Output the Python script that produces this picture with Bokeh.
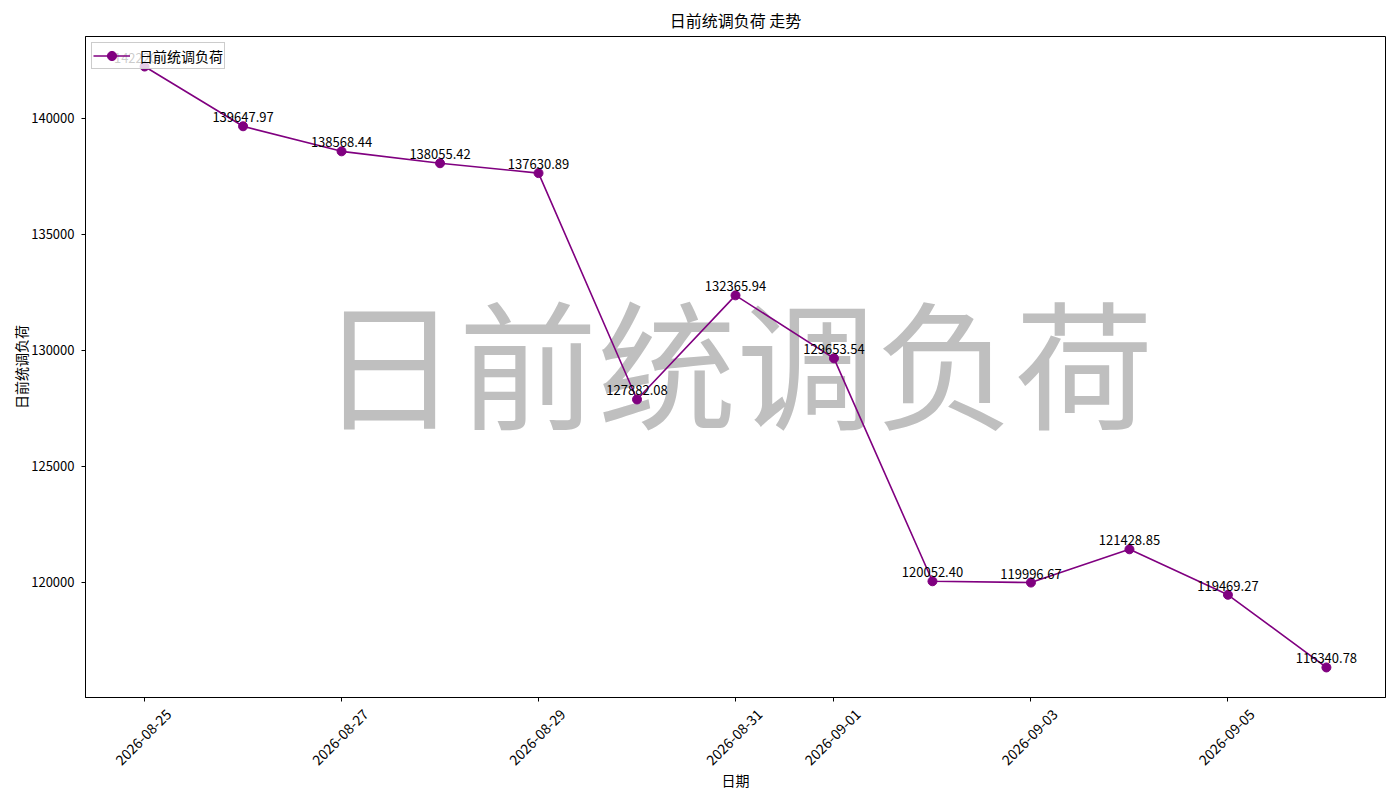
import math
from datetime import datetime
from bokeh.plotting import figure
from bokeh.models import (ColumnDataSource, FixedTicker, DatetimeTickFormatter, DatetimeAxis,
                          BasicTickFormatter, Range1d, Label, Legend, LegendItem)
from bokeh.core.properties import value
from bokeh.embed import file_html
from bokeh.resources import INLINE

FONT = "Noto Sans CJK SC"

dates = ["2026-08-25", "2026-08-26", "2026-08-27", "2026-08-28", "2026-08-29",
         "2026-08-30", "2026-08-31", "2026-09-01", "2026-09-02", "2026-09-03",
         "2026-09-04", "2026-09-05", "2026-09-06"]
loads = [142220.15, 139647.97, 138568.44, 138055.42, 137630.89,
         127882.08, 132365.94, 129653.54, 120052.40, 119996.67,
         121428.85, 119469.27, 116340.78]
x_tick_dates = ["2026-08-25", "2026-08-27", "2026-08-29", "2026-08-31",
                "2026-09-01", "2026-09-03", "2026-09-05"]
y_ticks = [120000, 125000, 130000, 135000, 140000]

title_text = "日前统调负荷 走势"
series_name = "日前统调负荷"
x_label = "日期"
y_label = "日前统调负荷"
watermark = "日前统调负荷"

xs = [datetime.strptime(d, "%Y-%m-%d") for d in dates]
labels = ["%.2f" % v for v in loads]
src = ColumnDataSource(dict(x=xs, y=loads, label=labels))

x0 = xs[0].timestamp() * 1000
x1 = xs[-1].timestamp() * 1000
xpad = (x1 - x0) * 0.05
ymin, ymax = min(loads), max(loads)
ypad = (ymax - ymin) * 0.05
y_lo = ymin - ypad

FRAME_W = 1300
x_lo, x_hi = x0 - xpad, x1 + xpad
# tick labels: a second, label-only axis on a range shifted so that the rotated
# labels end up centred on their ticks (as in the reference)
shift_px = 24
shift = shift_px * (x_hi - x_lo) / FRAME_W

p = figure(x_axis_type="datetime", output_backend="svg", toolbar_location=None,
           frame_width=FRAME_W, frame_height=661,
           min_border_left=85, min_border_right=7, min_border_top=36, min_border_bottom=93,
           x_range=Range1d(x_lo, x_hi),
           y_range=Range1d(y_lo, ymax + ypad))
p.extra_x_ranges = {"lab": Range1d(x_lo - shift, x_hi - shift)}

p.title.text = title_text
p.title.align = "center"
p.title.text_font = FONT
p.title.text_font_style = "normal"
p.title.text_font_size = "16px"
p.title.text_color = "black"

p.xgrid.visible = False
p.ygrid.visible = False
p.outline_line_color = "black"
p.outline_line_width = 1
p.background_fill_color = "white"
p.border_fill_color = "white"

# watermark behind data
wm = Label(x=651, y=339, x_units="screen", y_units="screen", text=watermark,
           text_font=FONT, text_font_size="139px", text_color="#bfbfbf",
           text_alpha=1.0, text_align="center", text_baseline="middle",
           level="underlay")
p.add_layout(wm)

r_line = p.line("x", "y", source=src, line_color="purple", line_width=1.6)
r_pts = p.scatter("x", "y", source=src, size=9, fill_color="purple", line_color="purple")
p.text("x", "y", text="label", source=src, text_font=value(FONT), text_font_size="13px",
       text_align="center", text_baseline="bottom", y_offset=-4, text_color="black")

legend = Legend(items=[LegendItem(label=series_name, renderers=[r_line, r_pts])],
                location="top_left", label_text_font=FONT, label_text_font_size="14px",
                label_text_color="black",
                border_line_color="#cccccc", border_line_alpha=1.0,
                background_fill_alpha=0.8, padding=1, spacing=0, margin=6,
                glyph_width=37, glyph_height=23, label_height=16, label_standoff=9)
p.add_layout(legend)

tick_ms = [datetime.strptime(d, "%Y-%m-%d").timestamp() * 1000 for d in x_tick_dates]
fmt = DatetimeTickFormatter(days="%Y-%m-%d", months="%Y-%m-%d",
                            hours="%Y-%m-%d", years="%Y-%m-%d")

# main x axis: ticks only
p.xaxis.ticker = FixedTicker(ticks=tick_ms)
p.xaxis.formatter = fmt
p.xaxis.major_label_text_alpha = 0.0
p.xaxis.major_label_standoff = 0
p.xaxis.minor_tick_line_color = None
p.xaxis.major_tick_in = 0
p.xaxis.major_tick_out = 4
p.xaxis.axis_line_color = "black"
p.xaxis.major_tick_line_color = "black"

lab_axis = DatetimeAxis(x_range_name="lab", ticker=FixedTicker(ticks=tick_ms), formatter=fmt,
                        major_label_orientation=math.pi / 4,
                        axis_line_color=None, major_tick_line_color=None,
                        minor_tick_line_color=None, major_tick_in=0, major_tick_out=0,
                        major_label_standoff=10,
                        major_label_text_font=FONT, major_label_text_font_size="14px",
                        major_label_text_color="black",
                        axis_label=x_label, axis_label_text_font=FONT,
                        axis_label_text_font_size="14px", axis_label_text_font_style="normal",
                        axis_label_text_color="black", axis_label_standoff=-3)
p.add_layout(lab_axis, "below")

p.yaxis.ticker = FixedTicker(ticks=y_ticks)
p.yaxis.formatter = BasicTickFormatter(use_scientific=False)
p.yaxis.major_label_text_font = FONT
p.yaxis.major_label_text_font_size = "13px"
p.yaxis.major_label_text_color = "black"
p.yaxis.major_label_standoff = 7
p.yaxis.axis_label = y_label
p.yaxis.axis_label_text_font = FONT
p.yaxis.axis_label_text_font_size = "14px"
p.yaxis.axis_label_text_font_style = "normal"
p.yaxis.axis_label_text_color = "black"
p.yaxis.axis_label_standoff = -3
p.yaxis.minor_tick_line_color = None
p.yaxis.major_tick_in = 0
p.yaxis.major_tick_out = 4
p.yaxis.axis_line_color = "black"
p.yaxis.major_tick_line_color = "black"

open("out.html", "w").write(file_html(p, INLINE))
